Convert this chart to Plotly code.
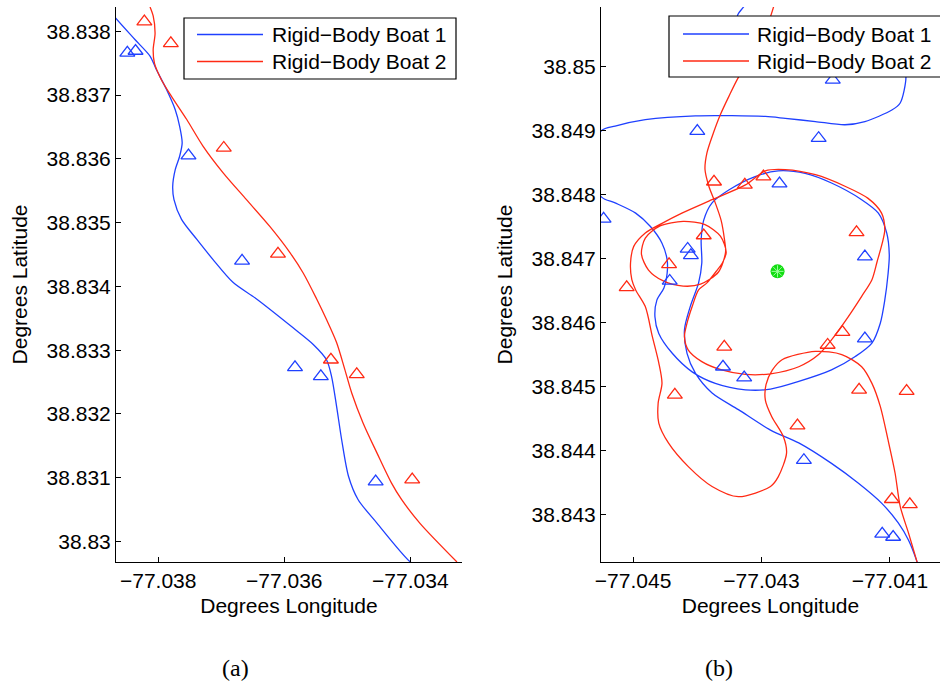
import plotly.graph_objects as go

# ---------------- Panel (a) data ----------------
a_boat1_lon = [-77.03883, -77.03868, -77.03837, -77.03813, -77.03803, -77.03787, -77.03773, -77.03766,
               -77.03762, -77.03766, -77.03773, -77.03777, -77.03775, -77.03763, -77.03739, -77.03713,
               -77.03681, -77.03645, -77.03586, -77.03554, -77.03533, -77.03525, -77.03517,
               -77.03509, -77.03498, -77.03483, -77.03453, -77.03400, -77.03377]
a_boat1_lat = [38.83839, 38.83821, 38.83787, 38.83761, 38.83740, 38.83709, 38.83677, 38.83651,
               38.83625, 38.83604, 38.83583, 38.83557, 38.83536, 38.83505, 38.83474, 38.83442,
               38.83406, 38.83381, 38.83335, 38.83309, 38.83285, 38.83259, 38.83212,
               38.83160, 38.83102, 38.83066, 38.83029, 38.82968, 38.82954]
a_boat2_lon = [-77.03813, -77.03808, -77.03805, -77.03808, -77.03806, -77.03795, -77.03779, -77.03755,
               -77.03729, -77.03697, -77.03660, -77.03623, -77.03591, -77.03570, -77.03549, -77.03533,
               -77.03517, -77.03504, -77.03493, -77.03475, -77.03453, -77.03430, -77.03414, -77.03385,
               -77.03326]
a_boat2_lat = [38.83838, 38.83824, 38.83797, 38.83771, 38.83750, 38.83724, 38.83698, 38.83662,
               38.83620, 38.83578, 38.83536, 38.83494, 38.83453, 38.83421, 38.83381, 38.83348,
               38.83312, 38.83270, 38.83233, 38.83186, 38.83139, 38.83092, 38.83066, 38.83029,
               38.82968]
a_obs1_lon = [-77.03849, -77.03836, -77.03752, -77.03667, -77.03583, -77.03542, -77.03455]
a_obs1_lat = [38.83766, 38.83769, 38.83605, 38.83440, 38.83273, 38.83259, 38.83094]
a_obs2_lon = [-77.03822, -77.03780, -77.03696, -77.03610, -77.03526, -77.03485, -77.03397]
a_obs2_lat = [38.83815, 38.83781, 38.83617, 38.83451, 38.83285, 38.83262, 38.83097]

a_xticks = [-77.038, -77.036, -77.034]
a_xticklabels = ["\u221277.038", "\u221277.036", "\u221277.034"]
a_yticks = [38.830, 38.831, 38.832, 38.833, 38.834, 38.835, 38.836, 38.837, 38.838]
a_yticklabels = ["38.83", "38.831", "38.832", "38.833", "38.834", "38.835", "38.836", "38.837", "38.838"]

# ---------------- Panel (b) data ----------------
b_boat1_lon = [-77.04318, -77.04328, -77.04337, -77.04339, -77.04318, -77.04240, -77.04131, -77.04081,
               -77.04075, -77.04084, -77.04097, -77.04139, -77.04170, -77.04216, -77.04263, -77.04294,
               -77.04403, -77.04481, -77.04528, -77.04549, -77.04570, -77.04549, -77.04528, -77.04496,
               -77.04473, -77.04455, -77.04447, -77.04447, -77.04452, -77.04463, -77.04466, -77.04460,
               -77.04439, -77.04408, -77.04372, -77.04325, -77.04286, -77.04242, -77.04191, -77.04154,
               -77.04128, -77.04115, -77.04108, -77.04103, -77.04101, -77.04105, -77.04118, -77.04144,
               -77.04191, -77.04232, -77.04274, -77.04310, -77.04351, -77.04377, -77.04390, -77.04394,
               -77.04393, -77.04398, -77.04411, -77.04420, -77.04416, -77.04403, -77.04377, -77.04336,
               -77.04286, -77.04242, -77.04191, -77.04149, -77.04113, -77.04087, -77.04071, -77.04058,
               -77.04053]
b_boat1_lat = [38.85112, 38.85093, 38.85081, 38.85060, 38.85034, 38.85023, 38.85029, 38.85014,
               38.84984, 38.84943, 38.84932, 38.84914, 38.84909, 38.84914, 38.84919, 38.84922,
               38.84923, 38.84917, 38.84907, 38.84900, 38.84846, 38.84796, 38.84787, 38.84771,
               38.84750, 38.84724, 38.84698, 38.84677, 38.84654, 38.84635, 38.84609, 38.84583,
               38.84552, 38.84523, 38.84505, 38.84495, 38.84496, 38.84508, 38.84526, 38.84547,
               38.84568, 38.84599, 38.84635, 38.84675, 38.84706, 38.84740, 38.84771, 38.84792,
               38.84818, 38.84833, 38.84837, 38.84828, 38.84807, 38.84787, 38.84760, 38.84729,
               38.84693, 38.84662, 38.84625, 38.84589, 38.84552, 38.84521, 38.84490, 38.84464,
               38.84432, 38.84412, 38.84380, 38.84349, 38.84318, 38.84287, 38.84260, 38.84227,
               38.84210]
b_boat2_lon = [-77.04277, -77.04281, -77.04286, -77.04299, -77.04318, -77.04336, -77.04351, -77.04364,
               -77.04375, -77.04385, -77.04388, -77.04382, -77.04372, -77.04363, -77.04358, -77.04356,
               -77.04367, -77.04395, -77.04422, -77.04453, -77.04476, -77.04487, -77.04481, -77.04458,
               -77.04422, -77.04388, -77.04364, -77.04355, -77.04361, -77.04369, -77.04385, -77.04398,
               -77.04408, -77.04416, -77.04420, -77.04414, -77.04393, -77.04362, -77.04325, -77.04286,
               -77.04242, -77.04211, -77.04191, -77.04165, -77.04144, -77.04128, -77.04120, -77.04112,
               -77.04108, -77.04113, -77.04134, -77.04170, -77.04216, -77.04263, -77.04294, -77.04325,
               -77.04377, -77.04424, -77.04455, -77.04481, -77.04499, -77.04504, -77.04502, -77.04496,
               -77.04481, -77.04470, -77.04460, -77.04455, -77.04461, -77.04460, -77.04445, -77.04414,
               -77.04377, -77.04336, -77.04286, -77.04274, -77.04261, -77.04266, -77.04284, -77.04294,
               -77.04293, -77.04283, -77.04268, -77.04216, -77.04175, -77.04144, -77.04128, -77.04115,
               -77.04103, -77.04092, -77.04084, -77.04071, -77.04058, -77.04053]
b_boat2_lat = [38.85112, 38.85094, 38.85078, 38.85042, 38.85010, 38.84983, 38.84953, 38.84925,
               38.84896, 38.84865, 38.84839, 38.84813, 38.84787, 38.84760, 38.84732, 38.84710,
               38.84679, 38.84660, 38.84657, 38.84665, 38.84682, 38.84707, 38.84732, 38.84751,
               38.84758, 38.84753, 38.84735, 38.84710, 38.84693, 38.84682, 38.84662, 38.84651,
               38.84625, 38.84599, 38.84578, 38.84557, 38.84539, 38.84526, 38.84519, 38.84520,
               38.84531, 38.84550, 38.84573, 38.84609, 38.84641, 38.84667, 38.84695, 38.84724,
               38.84745, 38.84771, 38.84794, 38.84813, 38.84831, 38.84839, 38.84837, 38.84815,
               38.84792, 38.84771, 38.84755, 38.84740, 38.84719, 38.84693, 38.84667, 38.84651,
               38.84625, 38.84578, 38.84537, 38.84505, 38.84474, 38.84443, 38.84412, 38.84375,
               38.84344, 38.84328, 38.84344, 38.84359, 38.84396, 38.84422, 38.84453, 38.84479,
               38.84503, 38.84526, 38.84542, 38.84555, 38.84550, 38.84531, 38.84505, 38.84469,
               38.84417, 38.84365, 38.84313, 38.84271, 38.84227, 38.84210]
b_obs1_lon = [-77.04189, -77.04400, -77.04211, -77.04272, -77.04546, -77.04415, -77.04410, -77.04139,
              -77.04443, -77.04139, -77.04360, -77.04327, -77.04234, -77.04112, -77.04095]
b_obs1_lat = [38.84979, 38.84899, 38.84888, 38.84817, 38.84762, 38.84715, 38.84705, 38.84703,
              38.84665, 38.84575, 38.84531, 38.84514, 38.84385, 38.84270, 38.84265]
b_obs2_lon = [-77.04374, -77.04326, -77.04297, -77.04152, -77.04390, -77.04444, -77.04510, -77.04358,
              -77.04174, -77.04197, -77.04435, -77.04148, -77.04074, -77.04244, -77.04097, -77.04069]
b_obs2_lat = [38.84820, 38.84815, 38.84828, 38.84741, 38.84736, 38.84691, 38.84655, 38.84562,
              38.84585, 38.84565, 38.84487, 38.84495, 38.84493, 38.84439, 38.84324, 38.84316]
b_target_lon = [-77.04275]
b_target_lat = [38.84680]

b_xticks = [-77.045, -77.043, -77.041]
b_xticklabels = ["\u221277.045", "\u221277.043", "\u221277.041"]
b_yticks = [38.843, 38.844, 38.845, 38.846, 38.847, 38.848, 38.849, 38.850]
b_yticklabels = ["38.843", "38.844", "38.845", "38.846", "38.847", "38.848", "38.849", "38.85"]

series_names = ["Rigid\u2212Body Boat 1", "Rigid\u2212Body Boat 2"]
captions = ["(a)", "(b)"]

# ---------------- Styling ----------------
BLUE = "#1f40ff"
RED = "#ff2a14"
SANS = "Liberation Sans, Arial, Helvetica, sans-serif"
FS = 21
W, H = 940, 685

fig = go.Figure()


def add_panel(xa, ya, b1x, b1y, b2x, b2y, o1x, o1y, o2x, o2y):
    fig.add_trace(go.Scatter(x=b1x, y=b1y, mode="lines", name=series_names[0], showlegend=False,
                             line=dict(color=BLUE, width=1.3, shape="spline", smoothing=0.8),
                             xaxis=xa, yaxis=ya))
    fig.add_trace(go.Scatter(x=b2x, y=b2y, mode="lines", name=series_names[1], showlegend=False,
                             line=dict(color=RED, width=1.3, shape="spline", smoothing=0.8),
                             xaxis=xa, yaxis=ya))
    fig.add_trace(go.Scatter(x=o1x, y=o1y, mode="markers", showlegend=False,
                             marker=dict(symbol="triangle-up-open", size=13, color=BLUE,
                                         line=dict(width=1.3, color=BLUE)),
                             xaxis=xa, yaxis=ya))
    fig.add_trace(go.Scatter(x=o2x, y=o2y, mode="markers", showlegend=False,
                             marker=dict(symbol="triangle-up-open", size=13, color=RED,
                                         line=dict(width=1.3, color=RED)),
                             xaxis=xa, yaxis=ya))


add_panel("x", "y", a_boat1_lon, a_boat1_lat, a_boat2_lon, a_boat2_lat,
          a_obs1_lon, a_obs1_lat, a_obs2_lon, a_obs2_lat)
add_panel("x2", "y2", b_boat1_lon, b_boat1_lat, b_boat2_lon, b_boat2_lat,
          b_obs1_lon, b_obs1_lat, b_obs2_lon, b_obs2_lat)

fig.add_trace(go.Scatter(x=b_target_lon, y=b_target_lat, mode="markers", showlegend=False,
                         marker=dict(symbol="circle", size=14, color="#11dd11", line=dict(width=0)),
                         xaxis="x2", yaxis="y2"))
fig.add_trace(go.Scatter(x=b_target_lon, y=b_target_lat, mode="markers", showlegend=False,
                         marker=dict(symbol="asterisk-open", size=10, color="#9cff9c",
                                     line=dict(width=1, color="#9cff9c")),
                         xaxis="x2", yaxis="y2"))

axis_common = dict(showline=True, linecolor="black", linewidth=1, ticks="inside", ticklen=5,
                   tickcolor="black", tickwidth=1, showgrid=False, zeroline=False, mirror=False,
                   tickfont=dict(family=SANS, size=FS, color="black"), tickmode="array",
                   automargin=False)
title_font = dict(family=SANS, size=FS, color="black")
ydom = [0.1796, 0.9898]

# ---- legend boxes (drawn as layout decoration, MATLAB style) ----
shapes = []
annotations = []
legend_boxes = [
    # (box x0, x1, y0, y1, sample x0, x1, text x, row y's) in pixels
    (184, 456, 18, 79, 197, 263, 270, (34.5, 61.5)),
    (669, 955, 16, 77, 683, 749, 755, (34.0, 61.0)),
]
colors = [BLUE, RED]
for (bx0, bx1, by0, by1, sx0, sx1, tx, rows) in legend_boxes:
    shapes.append(dict(type="rect", xref="paper", yref="paper", layer="above",
                       x0=bx0 / W, x1=bx1 / W, y0=1 - by1 / H, y1=1 - by0 / H,
                       fillcolor="white", line=dict(color="black", width=1.2)))
    for k, ry in enumerate(rows):
        shapes.append(dict(type="line", xref="paper", yref="paper", layer="above",
                           x0=sx0 / W, x1=sx1 / W, y0=1 - ry / H, y1=1 - ry / H,
                           line=dict(color=colors[k], width=1.3)))
        annotations.append(dict(text=series_names[k], x=tx / W, y=1 - ry / H, xref="paper", yref="paper",
                                xanchor="left", yanchor="middle", showarrow=False,
                                font=dict(family=SANS, size=FS, color="black")))

for txt, cx in zip(captions, (236, 719)):
    annotations.append(dict(text=txt, x=cx / W, y=1 - 668 / H, xref="paper", yref="paper",
                            xanchor="center", yanchor="middle", showarrow=False,
                            font=dict(family="Liberation Serif, serif", size=24, color="black")))

fig.update_layout(
    width=W, height=H,
    margin=dict(l=0, r=0, t=0, b=0, autoexpand=False),
    paper_bgcolor="white", plot_bgcolor="white",
    showlegend=False,
    xaxis=dict(domain=[116 / W, 462 / W], range=[-77.03867, -77.03318], anchor="y",
               tickvals=a_xticks, ticktext=a_xticklabels,
               title=dict(text="Degrees Longitude", font=title_font, standoff=7), **axis_common),
    yaxis=dict(domain=ydom, range=[38.82968, 38.83838], anchor="x",
               tickvals=a_yticks, ticktext=a_yticklabels,
               title=dict(text="Degrees Latitude", font=title_font, standoff=13), **axis_common),
    xaxis2=dict(domain=[601 / W, 1.0], range=[-77.0455, -77.04022], anchor="y2",
                tickvals=b_xticks, ticktext=b_xticklabels,
                title=dict(text="Degrees Longitude", font=title_font, standoff=7), **axis_common),
    yaxis2=dict(domain=ydom, range=[38.84226, 38.85093], anchor="x2",
                tickvals=b_yticks, ticktext=b_yticklabels,
                title=dict(text="Degrees Latitude", font=title_font, standoff=13), **axis_common),
    shapes=shapes,
    annotations=annotations,
)

fig.write_html("out.html", config={"displayModeBar": False},
               post_script="document.body.style.margin='0';document.body.style.overflow='hidden';")
